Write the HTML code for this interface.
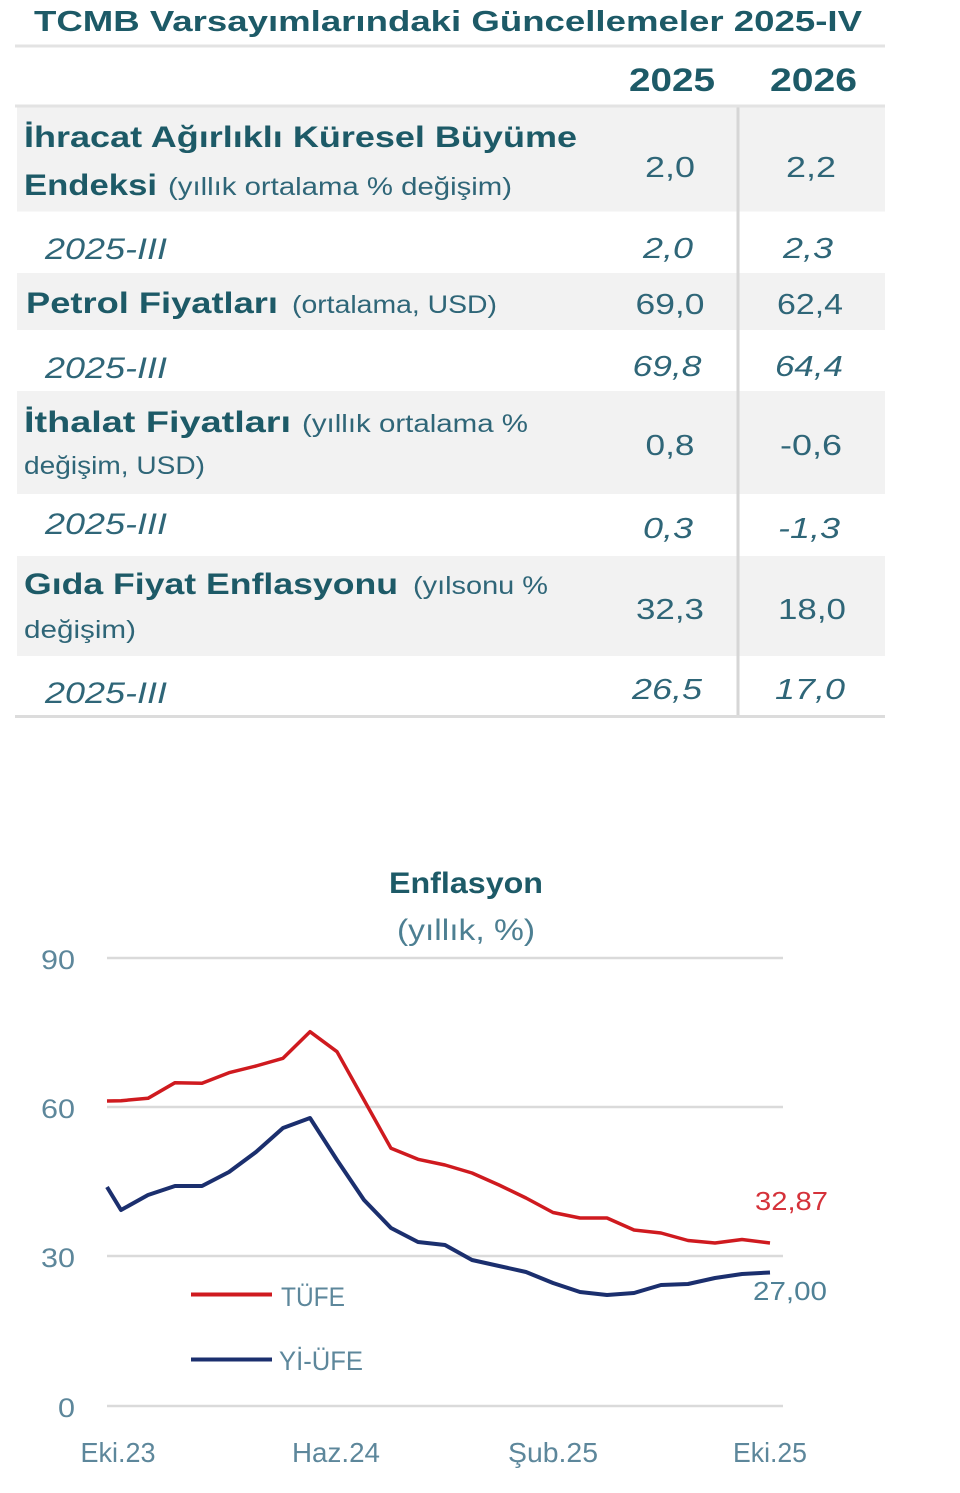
<!DOCTYPE html>
<html><head><meta charset="utf-8"><style>
html,body{margin:0;padding:0;background:#fff;}
svg{display:block;}
text{font-family:"Liberation Sans","DejaVu Sans",sans-serif;}
.b{font-weight:bold;fill:#1d5a67;}
.n{fill:#2f6678;}
.i{font-style:italic;fill:#2f6678;}
.v{fill:#2f6678;}
.ax{fill:#5d879b;}
</style></head><body>
<svg width="960" height="1493" viewBox="0 0 960 1493" xmlns="http://www.w3.org/2000/svg">
<rect x="0" y="0" width="960" height="1493" fill="#fff"/>
<!-- Table -->
<text class="b" x="34" y="31" font-size="29" textLength="828" lengthAdjust="spacingAndGlyphs">TCMB Varsayımlarındaki Güncellemeler 2025-IV</text>
<rect x="15" y="44.5" width="870" height="3" fill="#e3e3e3"/>
<text class="b" x="629" y="91" font-size="32" textLength="86" lengthAdjust="spacingAndGlyphs">2025</text>
<text class="b" x="770" y="91" font-size="32" textLength="87" lengthAdjust="spacingAndGlyphs">2026</text>
<rect x="15" y="104.5" width="870" height="3" fill="#e3e3e3"/>

<rect x="17" y="107.5" width="868" height="104" fill="#f2f2f2"/>
<rect x="17" y="273" width="868" height="57" fill="#f2f2f2"/>
<rect x="17" y="391" width="868" height="103" fill="#f2f2f2"/>
<rect x="17" y="556" width="868" height="100" fill="#f2f2f2"/>
<rect x="736.5" y="107.5" width="3" height="610" fill="#d6d6d6"/>
<rect x="15" y="715" width="870" height="3" fill="#dcdcdc"/>

<!-- Row 1 -->
<text class="b" x="24" y="147" font-size="30" textLength="553" lengthAdjust="spacingAndGlyphs">İhracat Ağırlıklı Küresel Büyüme</text>
<text class="b" x="24" y="195" font-size="30" textLength="133" lengthAdjust="spacingAndGlyphs">Endeksi</text>
<text class="n" x="168" y="195" font-size="25" textLength="344" lengthAdjust="spacingAndGlyphs">(yıllık ortalama % değişim)</text>
<text class="v" x="670" y="177" font-size="29" text-anchor="middle" textLength="50" lengthAdjust="spacingAndGlyphs">2,0</text>
<text class="v" x="811" y="177" font-size="29" text-anchor="middle" textLength="50" lengthAdjust="spacingAndGlyphs">2,2</text>
<!-- Row 2 -->
<text class="i" x="45" y="259" font-size="30" textLength="122" lengthAdjust="spacingAndGlyphs">2025-III</text>
<text class="i" x="668" y="258" font-size="29" text-anchor="middle" textLength="50" lengthAdjust="spacingAndGlyphs">2,0</text>
<text class="i" x="808" y="258" font-size="29" text-anchor="middle" textLength="50" lengthAdjust="spacingAndGlyphs">2,3</text>
<!-- Row 3 -->
<text class="b" x="26" y="313" font-size="30" textLength="252" lengthAdjust="spacingAndGlyphs">Petrol Fiyatları</text>
<text class="n" x="292" y="313" font-size="25" textLength="205" lengthAdjust="spacingAndGlyphs">(ortalama, USD)</text>
<text class="v" x="670" y="314" font-size="29" text-anchor="middle" textLength="69" lengthAdjust="spacingAndGlyphs">69,0</text>
<text class="v" x="810" y="314" font-size="29" text-anchor="middle" textLength="66" lengthAdjust="spacingAndGlyphs">62,4</text>
<!-- Row 4 -->
<text class="i" x="45" y="378" font-size="30" textLength="122" lengthAdjust="spacingAndGlyphs">2025-III</text>
<text class="i" x="667" y="376" font-size="29" text-anchor="middle" textLength="69" lengthAdjust="spacingAndGlyphs">69,8</text>
<text class="i" x="809" y="376" font-size="29" text-anchor="middle" textLength="68" lengthAdjust="spacingAndGlyphs">64,4</text>
<!-- Row 5 -->
<text class="b" x="24" y="432" font-size="30" textLength="267" lengthAdjust="spacingAndGlyphs">İthalat Fiyatları</text>
<text class="n" x="302" y="432" font-size="25" textLength="226" lengthAdjust="spacingAndGlyphs">(yıllık ortalama %</text>
<text class="n" x="24" y="474" font-size="25" textLength="181" lengthAdjust="spacingAndGlyphs">değişim, USD)</text>
<text class="v" x="670" y="455" font-size="29" text-anchor="middle" textLength="49" lengthAdjust="spacingAndGlyphs">0,8</text>
<text class="v" x="811" y="455" font-size="29" text-anchor="middle" textLength="62" lengthAdjust="spacingAndGlyphs">-0,6</text>
<!-- Row 6 -->
<text class="i" x="45" y="534" font-size="30" textLength="122" lengthAdjust="spacingAndGlyphs">2025-III</text>
<text class="i" x="668" y="538" font-size="29" text-anchor="middle" textLength="50" lengthAdjust="spacingAndGlyphs">0,3</text>
<text class="i" x="809" y="538" font-size="29" text-anchor="middle" textLength="62" lengthAdjust="spacingAndGlyphs">-1,3</text>
<!-- Row 7 -->
<text class="b" x="24" y="594" font-size="30" textLength="374" lengthAdjust="spacingAndGlyphs">Gıda Fiyat Enflasyonu</text>
<text class="n" x="413" y="594" font-size="25" textLength="135" lengthAdjust="spacingAndGlyphs">(yılsonu %</text>
<text class="n" x="24" y="638" font-size="25" textLength="112" lengthAdjust="spacingAndGlyphs">değişim)</text>
<text class="v" x="670" y="619" font-size="29" text-anchor="middle" textLength="68" lengthAdjust="spacingAndGlyphs">32,3</text>
<text class="v" x="812" y="619" font-size="29" text-anchor="middle" textLength="68" lengthAdjust="spacingAndGlyphs">18,0</text>
<!-- Row 8 -->
<text class="i" x="45" y="703" font-size="30" textLength="122" lengthAdjust="spacingAndGlyphs">2025-III</text>
<text class="i" x="667" y="699" font-size="29" text-anchor="middle" textLength="70" lengthAdjust="spacingAndGlyphs">26,5</text>
<text class="i" x="810" y="699" font-size="29" text-anchor="middle" textLength="70" lengthAdjust="spacingAndGlyphs">17,0</text>

<!-- Chart -->
<text class="b" x="466" y="893" font-size="30" text-anchor="middle" textLength="154" lengthAdjust="spacingAndGlyphs">Enflasyon</text>
<text x="466" y="940" font-size="30" text-anchor="middle" fill="#4d7f92" textLength="138" lengthAdjust="spacingAndGlyphs">(yıllık, %)</text>

<g stroke="#dadada" stroke-width="2.5">
<line x1="107" y1="958" x2="783" y2="958"/>
<line x1="107" y1="1107" x2="783" y2="1107"/>
<line x1="107" y1="1256" x2="783" y2="1256"/>
<line x1="107" y1="1406" x2="783" y2="1406"/>
</g>
<g class="ax" font-size="27" text-anchor="end">
<text x="75" y="969" textLength="34" lengthAdjust="spacingAndGlyphs">90</text>
<text x="75" y="1118" textLength="34" lengthAdjust="spacingAndGlyphs">60</text>
<text x="75" y="1267" textLength="34" lengthAdjust="spacingAndGlyphs">30</text>
<text x="75" y="1417" textLength="17" lengthAdjust="spacingAndGlyphs">0</text>
</g>
<g class="ax" font-size="28" text-anchor="middle">
<text x="118" y="1462" textLength="75" lengthAdjust="spacingAndGlyphs">Eki.23</text>
<text x="336" y="1462" textLength="88" lengthAdjust="spacingAndGlyphs">Haz.24</text>
<text x="553" y="1462" textLength="90" lengthAdjust="spacingAndGlyphs">Şub.25</text>
<text x="770" y="1462" textLength="74" lengthAdjust="spacingAndGlyphs">Eki.25</text>
</g>

<polyline fill="none" stroke="#cf1a1f" stroke-width="3.5" stroke-linejoin="round" points="107,1101 121,1100.7 148,1098.3 175,1082.7 202,1083.3 229,1072.7 256,1066 283,1058.3 310,1031.7 337,1051.7 364,1100 391,1148.3 418,1159.3 445,1165 472,1173 499,1185 526,1198 553,1212.5 580,1218 607,1218 634,1230 661,1233 688,1240.5 715,1243 742,1239.5 770,1243"/>
<polyline fill="none" stroke="#1b2f6e" stroke-width="4" stroke-linejoin="round" points="107,1187 121,1210 148,1195 175,1186 202,1186 229,1172 256,1152 283,1128 310,1118 337,1160 364,1200 391,1228 418,1242 445,1245 472,1260 499,1266 526,1272 553,1283 580,1292 607,1295 634,1293 661,1285 688,1284 715,1278 742,1274 770,1272.5"/>

<text x="755" y="1210" font-size="26" fill="#d5323a" textLength="73" lengthAdjust="spacingAndGlyphs">32,87</text>
<text x="753" y="1300" font-size="26" fill="#4f8196" textLength="74" lengthAdjust="spacingAndGlyphs">27,00</text>

<line x1="191" y1="1294.5" x2="272" y2="1294.5" stroke="#cf1a1f" stroke-width="4"/>
<text class="ax" x="281" y="1306" font-size="27" textLength="64" lengthAdjust="spacingAndGlyphs">TÜFE</text>
<line x1="191" y1="1359.5" x2="272" y2="1359.5" stroke="#1b2f6e" stroke-width="4"/>
<text class="ax" x="279" y="1370" font-size="27" textLength="84" lengthAdjust="spacingAndGlyphs">Yİ-ÜFE</text>
</svg>
</body></html>
